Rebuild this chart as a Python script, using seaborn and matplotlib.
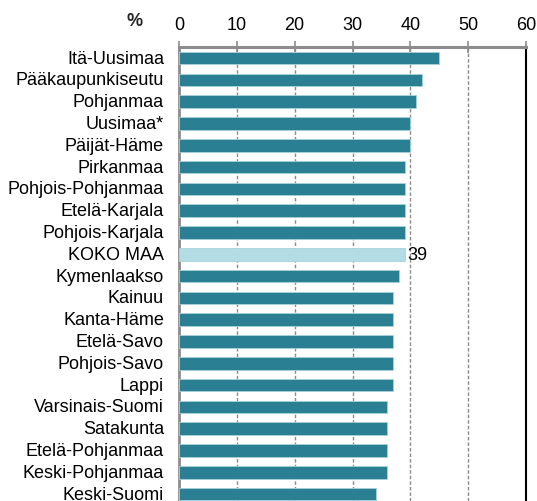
import matplotlib
matplotlib.use("Agg")
import matplotlib.pyplot as plt
import matplotlib.transforms as mtransforms
import seaborn as sns
import pandas as pd

regions = [
    "Itä-Uusimaa", "Pääkaupunkiseutu", "Pohjanmaa", "Uusimaa*", "Päijät-Häme",
    "Pirkanmaa", "Pohjois-Pohjanmaa", "Etelä-Karjala", "Pohjois-Karjala", "KOKO MAA",
    "Kymenlaakso", "Kainuu", "Kanta-Häme", "Etelä-Savo", "Pohjois-Savo", "Lappi",
    "Varsinais-Suomi", "Satakunta", "Etelä-Pohjanmaa", "Keski-Pohjanmaa", "Keski-Suomi",
]
values = [45, 42, 41, 40, 40, 39, 39, 39, 39, 39, 38, 37, 37, 37, 37, 37, 36, 36, 36, 36, 34]
x_ticks = [0, 10, 20, 30, 40, 50, 60]
total_label = "KOKO MAA"

sns.set_theme(style="white")
plt.rcParams["font.family"] = ["Liberation Sans", "DejaVu Sans"]

df = pd.DataFrame({"region": regions, "value": values})
df["group"] = ["total" if r == total_label else "region" for r in regions]
palette = {"region": "#2a7f93", "total": "#b4dce4"}

fig = plt.figure(figsize=(5.37, 5.02), dpi=100)
ax = fig.add_axes([179 / 537, 0.0, (526 - 179) / 537, (502 - 47.5) / 502])

sns.barplot(data=df, y="region", x="value", hue="group", palette=palette,
            orient="h", width=0.58, dodge=False, legend=False, ax=ax,
            saturation=1, edgecolor="#a9d3dc", linewidth=0.6, zorder=3)

ax.set_xlim(0, 60)
ax.set_ylim(20.32, -0.53)
ax.set_xticks(x_ticks)
ax.xaxis.tick_top()
ax.xaxis.set_label_position("top")
ax.set_xlabel("")
ax.set_ylabel("")

fs = 13
ax.tick_params(axis="x", direction="inout", length=9, width=1.2, color="#8c8c8c",
               labelsize=fs, pad=5, labelcolor="black")
ax.tick_params(axis="y", length=0, labelsize=fs, pad=13, labelcolor="black")

# nudge the region names slightly right and up
shift = mtransforms.ScaledTranslation(3 / 100, 2 / 100, fig.dpi_scale_trans)
for lbl in ax.get_yticklabels():
    lbl.set_transform(lbl.get_transform() + shift)

# dashed vertical gridlines between the ends
for t in x_ticks[1:-1]:
    ax.axvline(t, color="#8a8a8a", linestyle=(0, (2.5, 1.5)), linewidth=1.0, zorder=1)

for side in ["top", "left"]:
    ax.spines[side].set_color("#8c8c8c")
ax.spines["top"].set_linewidth(2.2)
ax.spines["left"].set_linewidth(2.0)
ax.spines["right"].set_color("black")
ax.spines["right"].set_linewidth(1.5)
ax.spines["bottom"].set_visible(False)

# value label on the national total
ti = regions.index(total_label)
ax.text(values[ti] + 0.4, ti, f"{values[ti]}", va="center", ha="left",
        fontsize=fs, color="black", zorder=4)

fig.text(135 / 537, 1 - 22 / 502, "%", fontsize=fs, fontweight="bold",
         ha="center", va="center")

fig.savefig("out.png", dpi=100)
